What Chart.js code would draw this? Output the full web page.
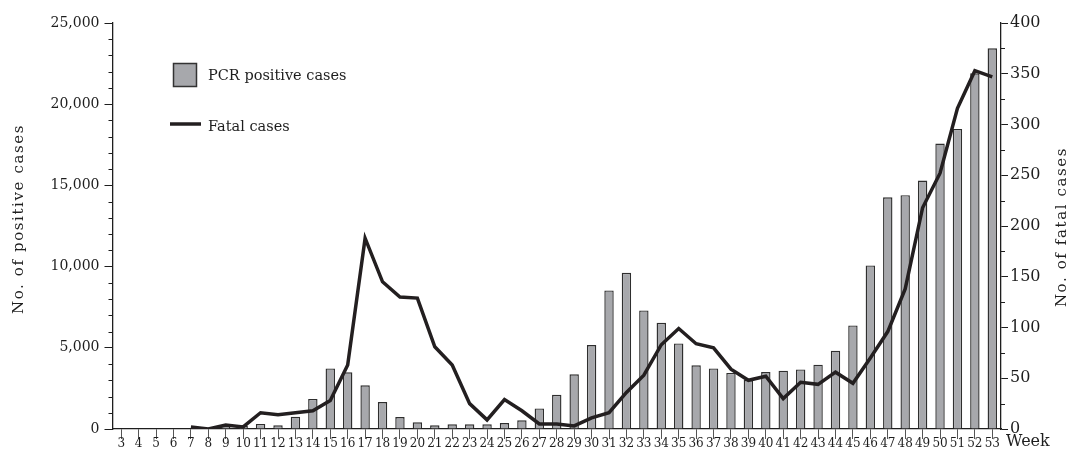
<!DOCTYPE html>
<html>
<head>
<meta charset="utf-8">
<script src="https://cdn.jsdelivr.net/npm/chart.js@4/dist/chart.umd.min.js"></script>
<style>
  html, body { margin: 0; padding: 0; background: #fff; }
  #wrap { width: 1070px; height: 457px; }
</style>
</head>
<body>
<div id="wrap"><canvas id="c" width="1070" height="457"></canvas></div>
<script>
// Epidemiological weeks shown on the x axis
const weekLabels = ['3','4','5','6','7','8','9','10','11','12','13','14','15','16','17','18','19','20',
  '21','22','23','24','25','26','27','28','29','30','31','32','33','34','35','36','37','38','39','40',
  '41','42','43','44','45','46','47','48','49','50','51','52','53'];

// Weekly PCR positive cases (left axis)
const positiveCases = [0, 0, 20, 0, 30, 20, 150, 200, 310, 230, 760, 1850, 3730, 3490, 2690, 1660,
  740, 410, 230, 290, 290, 290, 370, 535, 1270, 2110, 3370, 5170, 8530, 9620, 7300, 6540, 5270,
  3920, 3730, 3450, 3015, 3510, 3590, 3670, 3960, 4820, 6380, 10070, 14270, 14400, 15300, 17580,
  18480, 21900, 23440];

// Weekly fatal cases (right axis); no deaths reported before week 7
const fatalCases = [null, null, null, null, 2, 0, 4, 2, 16, 14, 16, 18, 28, 63, 188, 145, 130, 129,
  81, 63, 25, 9, 29, 18, 5, 5, 3, 11, 16, 36, 53, 83, 99, 84, 80, 59, 48, 52, 30, 46, 44, 56, 45,
  70, 96, 138, 218, 252, 316, 353, 347];

// Axis ranges and steps
const leftMax = 25000, leftStep = 5000, leftMinorStep = 1000;
const rightMax = 400, rightStep = 50, rightMinorStep = 25;

const SERIF = '"DejaVu Serif", "Liberation Serif", serif';
const INK = '#1e1e1e';
const BAR_FILL = '#a7a8ac';
const LINE_COLOR = '#231f20';

// Minor ticks, rotated axis titles, the "Week" label and the legend
const decorations = {
  id: 'decorations',
  afterDraw(chart) {
    const { ctx, scales } = chart;
    const yL = scales.y, yR = scales.y1;
    ctx.save();
    ctx.strokeStyle = INK;
    ctx.lineWidth = 1;
    ctx.beginPath();
    for (let v = leftMinorStep; v < leftMax; v += leftMinorStep) {
      if (v % leftStep === 0) continue;
      const p = Math.round(yL.getPixelForValue(v)) + 0.5;
      ctx.moveTo(yL.right - 4, p);
      ctx.lineTo(yL.right, p);
    }
    for (let v = rightMinorStep; v < rightMax; v += rightMinorStep) {
      if (v % rightStep === 0) continue;
      const p = Math.round(yR.getPixelForValue(v)) + 0.5;
      ctx.moveTo(yR.left, p);
      ctx.lineTo(yR.left + 4, p);
    }
    ctx.stroke();

    // axis titles
    ctx.fillStyle = INK;
    ctx.font = '15px ' + SERIF;
    ctx.letterSpacing = '1.6px';
    ctx.textAlign = 'center';
    ctx.textBaseline = 'middle';
    ctx.save();
    ctx.translate(19, 219);
    ctx.rotate(-Math.PI / 2);
    ctx.fillText('No. of positive cases', 0, 0);
    ctx.restore();
    ctx.save();
    ctx.translate(1062, 227);
    ctx.rotate(-Math.PI / 2);
    ctx.fillText('No. of fatal cases', 0, 0);
    ctx.restore();
    ctx.letterSpacing = '0px';

    // x axis unit label
    ctx.font = '16px ' + SERIF;
    ctx.textAlign = 'left';
    ctx.fillText('Week', 1006, 442);

    // legend
    const barSet = chart.data.datasets[1];
    const lineSet = chart.data.datasets[0];
    ctx.fillStyle = barSet.backgroundColor;
    ctx.fillRect(173.5, 63.5, 23, 23);
    ctx.strokeStyle = '#333';
    ctx.lineWidth = 1.5;
    ctx.strokeRect(173.5, 63.5, 23, 23);
    ctx.beginPath();
    ctx.strokeStyle = lineSet.borderColor;
    ctx.lineWidth = 3.5;
    ctx.moveTo(170, 124);
    ctx.lineTo(201, 124);
    ctx.stroke();
    ctx.fillStyle = INK;
    ctx.font = '14.5px ' + SERIF;
    ctx.textBaseline = 'middle';
    ctx.fillText(barSet.label, 208, 76);
    ctx.fillText(lineSet.label, 208, 127);
    ctx.restore();
  }
};

new Chart(document.getElementById('c'), {
  type: 'bar',
  data: {
    labels: weekLabels,
    datasets: [
      {
        type: 'line',
        label: 'Fatal cases',
        data: fatalCases,
        yAxisID: 'y1',
        borderColor: LINE_COLOR,
        borderWidth: 3.5,
        borderJoinStyle: 'miter',
        pointRadius: 0,
        tension: 0,
        order: 0
      },
      {
        type: 'bar',
        label: 'PCR positive cases',
        data: positiveCases,
        yAxisID: 'y',
        backgroundColor: BAR_FILL,
        borderColor: '#2e2e2e',
        borderWidth: 1.4,
        barPercentage: 0.54,
        categoryPercentage: 1,
        order: 1
      }
    ]
  },
  options: {
    responsive: false,
    animation: false,
    devicePixelRatio: 1,
    layout: { padding: { top: 23, right: 0, bottom: 0, left: 0 } },
    plugins: { legend: { display: false }, tooltip: { enabled: false } },
    scales: {
      x: {
        offset: true,
        grid: { drawOnChartArea: false, drawTicks: true, tickLength: 10, offset: false,
                color: '#555', tickColor: '#555' },
        border: { display: true, color: INK, width: 1.3 },
        ticks: { autoSkip: false, maxRotation: 0, minRotation: 0, padding: -2,
                 color: INK, font: { family: SERIF, size: 12 } },
        afterFit(s) { s.height = 28; }
      },
      y: {
        position: 'left',
        min: 0, max: leftMax,
        grid: { drawOnChartArea: false, tickLength: 8, tickColor: INK },
        border: { display: true, color: INK, width: 1.3 },
        ticks: { stepSize: leftStep, padding: 5, color: INK, font: { family: SERIF, size: 14 },
                 callback: v => v.toLocaleString('en-US') },
        afterFit(s) { s.width = 112.5; }
      },
      y1: {
        position: 'right',
        min: 0, max: rightMax,
        grid: { drawOnChartArea: false, tickLength: 7, tickColor: INK },
        border: { display: true, color: INK, width: 1.3 },
        ticks: { stepSize: rightStep, padding: 2, color: INK, font: { family: SERIF, size: 16 } },
        afterFit(s) { s.width = 69; }
      }
    }
  },
  plugins: [decorations]
});
</script>
</body>
</html>
